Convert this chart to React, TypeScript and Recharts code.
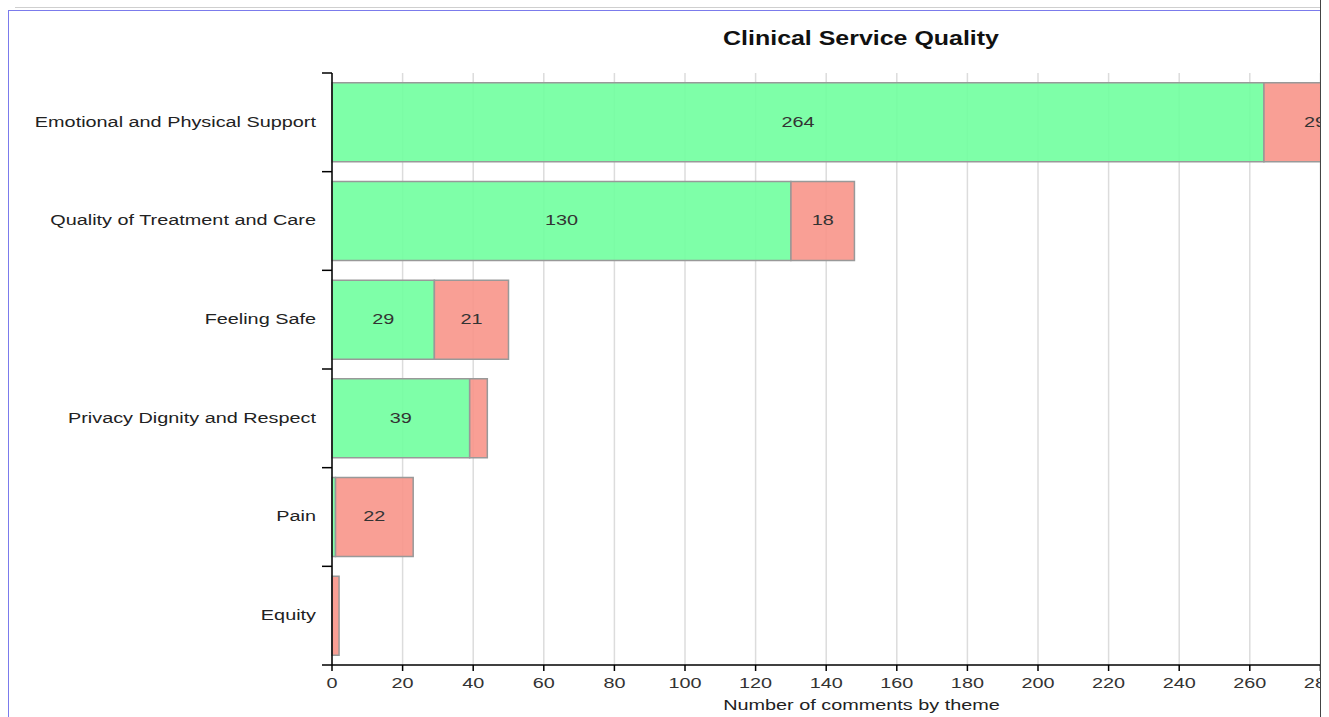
import { BarChart, Bar, XAxis, YAxis, CartesianGrid, LabelList } from "recharts";

const categories = [
  "Emotional and Physical Support",
  "Quality of Treatment and Care",
  "Feeling Safe",
  "Privacy Dignity and Respect",
  "Pain",
  "Equity",
];
const positive = [264, 130, 29, 39, 1, 0];
const negative = [29, 18, 21, 5, 22, 2];
const xTicks = [0, 20, 40, 60, 80, 100, 120, 140, 160, 180, 200, 220, 240, 260, 280, 300];

const data = categories.map((name, i) => ({
  name,
  positive: positive[i],
  negative: negative[i],
}));

// layout
const CHART_W = 1500;
const CHART_H = 717;
const TOP = 73;
const X_AXIS_H = 52;
const Y_AXIS_W = 332;
const BAND = (CHART_H - TOP - X_AXIS_H) / categories.length;
const FONT = "'Liberation Sans', Arial, sans-serif";
const SX = 1.28; // the source text is drawn wide

const WideText = ({ x, y, anchor = "middle", size = 15.5, weight = "normal", fill = "#222", children }: any) => (
  <text
    transform={`translate(${x},${y}) scale(${SX},1)`}
    dy="0.35em"
    textAnchor={anchor}
    fontSize={size}
    fontWeight={weight}
    fill={fill}
    fontFamily={FONT}
  >
    {children}
  </text>
);

const CategoryTick = (props: any) => {
  const { y, payload, index } = props;
  const half = BAND / 2;
  return (
    <g>
      <line x1={Y_AXIS_W - 10} x2={Y_AXIS_W} y1={y - half} y2={y - half} stroke="#000" strokeWidth={1.5} />
      {index === categories.length - 1 && (
        <line x1={Y_AXIS_W - 10} x2={Y_AXIS_W} y1={y + half} y2={y + half} stroke="#000" strokeWidth={1.5} />
      )}
      <WideText x={Y_AXIS_W - 16} y={y - 1} anchor="end">
        {payload.value}
      </WideText>
    </g>
  );
};

const NumberTick = (props: any) => {
  const { x, y, payload } = props;
  return (
    <WideText x={x} y={y + 10} fill="#333">
      {payload.value}
    </WideText>
  );
};

const BarValue = (props: any) => {
  const { x, y, width, height, value } = props;
  if (value < 10) return null;
  return (
    <WideText x={x + width / 2} y={y + height / 2 - 1} fill="#333">
      {value}
    </WideText>
  );
};

const AxisTitle = (props: any) => {
  const { viewBox } = props;
  return (
    <WideText x={viewBox.x + viewBox.width / 2} y={705}>
      Number of comments by theme
    </WideText>
  );
};

const line = (style: any) => <div style={{ position: "absolute", ...style }} />;

export default function App() {
  return (
    <div
      style={{
        position: "fixed",
        left: 0,
        top: 0,
        width: 1329,
        height: 717,
        background: "#fff",
        overflow: "hidden",
      }}
    >
      <div style={{ position: "absolute", left: 0, top: 0, width: 1320, height: 717, overflow: "hidden" }}>
        <BarChart
          width={CHART_W}
          height={CHART_H}
          data={data}
          layout="vertical"
          margin={{ top: TOP, right: 109, bottom: 0, left: 0 }}
          barCategoryGap="10%"
        >
          <WideText x={861} y={38} size={19.5} weight="bold" fill="#111">
            Clinical Service Quality
          </WideText>
          <CartesianGrid horizontal={false} stroke="#dcdcdc" strokeWidth={1.5} />
          <XAxis
            type="number"
            domain={[0, 300]}
            ticks={xTicks}
            height={X_AXIS_H}
            stroke="#000"
            strokeWidth={1.5}
            tickSize={6}
            tick={<NumberTick />}
            interval={0}
            label={<AxisTitle />}
          />
          <YAxis
            type="category"
            dataKey="name"
            width={Y_AXIS_W}
            stroke="#000"
            strokeWidth={1.5}
            tickLine={false}
            tick={<CategoryTick />}
            interval={0}
          />
          <Bar dataKey="positive" stackId="a" fill="#70ff9e" fillOpacity={0.9} stroke="#999" strokeWidth={1.5} isAnimationActive={false}>
            <LabelList dataKey="positive" content={<BarValue />} />
          </Bar>
          <Bar dataKey="negative" stackId="a" fill="#f8958a" fillOpacity={0.9} stroke="#999" strokeWidth={1.5} isAnimationActive={false}>
            <LabelList dataKey="negative" content={<BarValue />} />
          </Bar>
        </BarChart>
      </div>
      {line({ left: 15, top: 7, width: 1305, height: 1, background: "#cfcfcf" })}
      {line({ left: 8, top: 10, width: 1312, height: 1, background: "#7b7bec" })}
      {line({ left: 8, top: 10, width: 1, height: 707, background: "#7b7bec" })}
      {line({ left: 1320, top: 0, width: 1, height: 717, background: "#444" })}
    </div>
  );
}
